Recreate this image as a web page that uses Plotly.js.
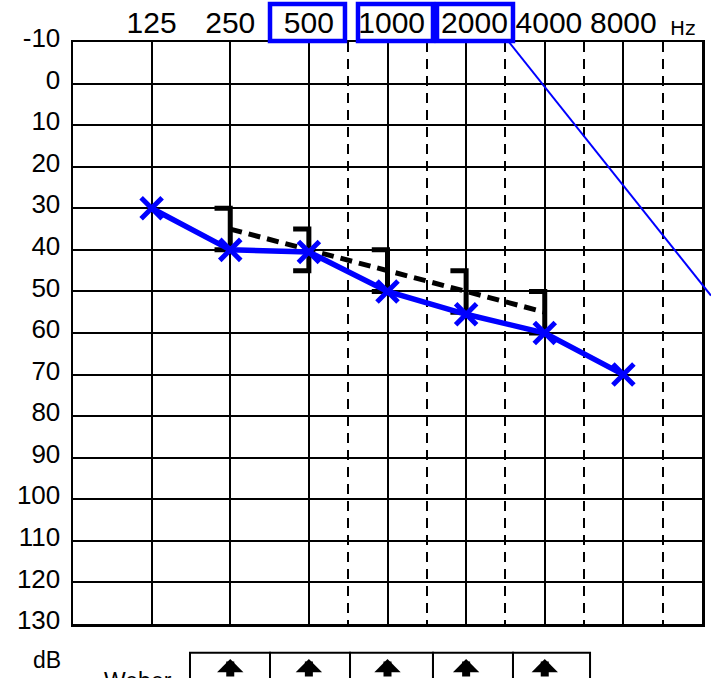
<!DOCTYPE html>
<html><head><meta charset="utf-8">
<script src="https://cdn.plot.ly/plotly-3.0.1.min.js"></script>
<style>html,body{margin:0;padding:0;background:#fff}#chart{width:711px;height:678px}</style>
</head><body><div id="chart"></div>
<script>
// ---- data ----
const freqTicks = [125, 250, 500, 1000, 2000, 4000, 8000];
const freqTickLabels = ['125', '250', '500', '\u00a01000', '\u00a0\u00a02000', '\u00a04000', '8000'];
const halfOctaveFreqs = [707, 1414, 2828, 5657, 11314];
const dbTicks = [-10, 0, 10, 20, 30, 40, 50, 60, 70, 80, 90, 100, 110, 120, 130];
const dbTickLabels = ['-10', '0', '10', '20', '30', '40', '50', '60', '70', '80', '90', '100', '110', '120', '130'];
const airFreqs = [125, 250, 500, 1000, 2000, 4000, 8000];
const airDb = [30, 40, 40.5, 50, 55.5, 60, 70];
const boneFreqs = [250, 500, 1000, 2000, 4000];
const boneDb = [35, 40, 45, 50, 55];
const weberFreqs = [250, 500, 1000, 2000, 4000];
const weberDirections = ['up', 'up', 'up', 'up', 'up'];
const diagLineDb = [-10, 51];

// ---- build bracket "]" symbols from bone values ----
const brX = [], brY = [];
boneFreqs.forEach((f, i) => {
  const d = boneDb[i];
  const fl = f * Math.pow(2, -0.2);
  brX.push(fl, f, f, fl, null);
  brY.push(d - 5, d - 5, d + 5, d + 5, null);
});

const traces = [
  { x: boneFreqs, y: boneDb, type: 'scatter', mode: 'lines',
    line: { color: '#000', width: 5, dash: '12px,7px' }, hoverinfo: 'skip' },
  { x: brX, y: brY, type: 'scatter', mode: 'lines',
    line: { color: '#000', width: 5 }, connectgaps: false, hoverinfo: 'skip' },
  { x: airFreqs, y: airDb, type: 'scatter', mode: 'lines+markers',
    line: { color: '#0000ff', width: 5.5 },
    marker: { symbol: 'x-thin', size: 21, color: '#0000ff', line: { color: '#0000ff', width: 5 } } }
];

const shapes = [];
// diagonal thin blue line
shapes.push({ type: 'line', xref: 'paper', yref: 'y', x0: 0.693, x1: 1.0143, y0: diagLineDb[0], y1: diagLineDb[1],
  line: { color: '#0000ff', width: 2 } });
// blue boxes around selected top labels
[[0.3132, 0.4324], [0.4531, 0.5723], [0.5787, 0.6995]].forEach(b => {
  shapes.push({ type: 'rect', xref: 'paper', yref: 'paper', x0: b[0], x1: b[1], y0: 1.0017, y1: 1.0653,
    line: { color: '#0000ff', width: 4.5 }, fillcolor: 'rgba(0,0,0,0)' });
});
// Weber table cells
const cellEdges = [0.186, 0.3132, 0.4404, 0.5723, 0.6995, 0.822];
for (let i = 0; i < cellEdges.length - 1; i++) {
  shapes.push({ type: 'rect', xref: 'paper', yref: 'paper', x0: cellEdges[i], x1: cellEdges[i + 1], y0: -0.0493, y1: -0.2,
    line: { color: '#000', width: 2 }, fillcolor: 'rgba(0,0,0,0)' });
}

const annotations = [
  { text: 'Hz', xref: 'paper', yref: 'paper', x: 0.9698, y: 1.0242, xanchor: 'center', yanchor: 'middle', showarrow: false,
    font: { family: 'DejaVu Sans, sans-serif', size: 20, color: '#000' } },
  { text: 'dB', xref: 'paper', yref: 'paper', x: -0.0418, y: -0.0615, xanchor: 'center', yanchor: 'middle', showarrow: false,
    font: { size: 23, color: '#000' } },
  { text: 'Weber', xref: 'paper', yref: 'paper', x: 0.104, y: -0.0985, xanchor: 'center', yanchor: 'middle', showarrow: false,
    font: { size: 23, color: '#000' } }
];
weberFreqs.forEach((f, i) => {
  if (weberDirections[i] === 'up') {
    annotations.push({ text: '', xref: 'x', yref: 'paper', x: Math.log10(f), y: -0.0601,
      showarrow: true, ax: 0, ay: 40, arrowhead: 1, arrowsize: 0.55, arrowwidth: 8, arrowcolor: '#000' });
  }
});

const layout = {
  width: 711, height: 678,
  margin: { l: 73, r: 9, t: 42, b: 54 },
  paper_bgcolor: '#fff', plot_bgcolor: '#fff',
  showlegend: false,
  font: { family: 'Liberation Sans, Arial, sans-serif', color: '#000' },
  xaxis: {
    type: 'log', range: [Math.log10(62.5), Math.log10(16000)],
    side: 'top', tickmode: 'array', tickvals: freqTicks, ticktext: freqTickLabels, tickangle: 0,
    tickfont: { size: 30 }, ticks: '', showgrid: true, gridcolor: '#000', gridwidth: 2,
    ticklabelstandoff: -5,
    zeroline: false, showline: true, mirror: true, linecolor: '#000', linewidth: 2.5,
    minor: { tickmode: 'array', tickvals: halfOctaveFreqs, showgrid: true, gridcolor: '#000', gridwidth: 2, griddash: '10px,7px', ticks: '' },
    fixedrange: true
  },
  yaxis: {
    range: [130, -10], tickmode: 'array', tickvals: dbTicks, ticktext: dbTickLabels,
    tickfont: { size: 26 }, ticks: '', showgrid: true, gridcolor: '#000', gridwidth: 2,
    zeroline: false, showline: true, mirror: true, linecolor: '#000', linewidth: 2.5,
    ticklabelstandoff: 5, ticklabelshift: 4, fixedrange: true
  },
  shapes: shapes,
  annotations: annotations
};

Plotly.newPlot('chart', traces, layout, { displayModeBar: false, staticPlot: true });
</script>
</body></html>
